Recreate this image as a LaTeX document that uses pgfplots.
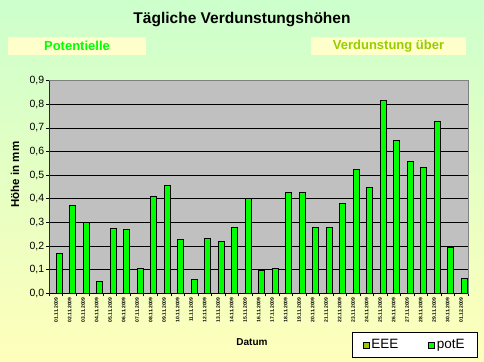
\documentclass[border=0pt]{standalone}
\usepackage{pgfplots}
\pgfplotsset{compat=1.18}
\usepackage{fontspec}
\setmainfont{Liberation Sans}
\definecolor{bgtop}{HTML}{CCFFCC}
\definecolor{bgbot}{HTML}{FFFFBB}
\definecolor{boxy}{HTML}{FFFFCC}
\definecolor{potEc}{HTML}{00FF00}
\definecolor{eeec}{HTML}{99CC00}
\definecolor{plotgray}{HTML}{C0C0C0}
\definecolor{framegray}{HTML}{808080}
\newcommand\dl[1]{\textbf{#1}}
\pgfplotsset{sqlegend/.style={legend image code/.code={\draw[##1,draw=black,line width=0.5pt] (0pt,-3pt) rectangle (6pt,3pt);}}}
\begin{document}
\begin{tikzpicture}[x=1pt,y=1pt]
\shade[top color=bgtop,bottom color=bgbot] (0,0) rectangle (484,361);
\node[font=\fontsize{15.5}{18}\selectfont\bfseries] at (242,341) {Tägliche Verdunstungshöhen};
\fill[boxy] (8,306) rectangle (146,324);
\node[font=\fontsize{13}{15}\selectfont\bfseries, text=potEc] at (77,315) {Potentielle};
\fill[boxy] (311,306) rectangle (466,324);
\node[font=\fontsize{13}{15}\selectfont\bfseries, text=eeec] at (388.5,315) {Verdunstung über};
\node[font=\fontsize{11.5}{13}\selectfont\bfseries, rotate=90] at (15,186.5) {Höhe in mm};
\node[font=\fontsize{10}{12}\selectfont\bfseries] at (252,19) {Datum};
\begin{axis}[
  at={(49.3pt,67.7pt)}, anchor=south west,
  scale only axis, width=418.7pt, height=212.6pt,
  xmin=0.5, xmax=31.5, ymin=0, ymax=0.9,
  ybar, bar width=6pt,
  axis background/.style={fill=plotgray},
  axis line style={draw=framegray, line width=1pt},
  ymajorgrids, major grid style={black, line width=0.8pt},
  ytick={0,0.1,0.2,0.3,0.4,0.5,0.6,0.7,0.8,0.9},
  xtick={1,...,31},
  xticklabels={\dl{01.11.2009},\dl{02.11.2009},\dl{03.11.2009},\dl{04.11.2009},\dl{05.11.2009},\dl{06.11.2009},\dl{07.11.2009},\dl{08.11.2009},\dl{09.11.2009},\dl{10.11.2009},\dl{11.11.2009},\dl{12.11.2009},\dl{13.11.2009},\dl{14.11.2009},\dl{15.11.2009},\dl{16.11.2009},\dl{17.11.2009},\dl{18.11.2009},\dl{19.11.2009},\dl{20.11.2009},\dl{21.11.2009},\dl{22.11.2009},\dl{23.11.2009},\dl{24.11.2009},\dl{25.11.2009},\dl{26.11.2009},\dl{27.11.2009},\dl{28.11.2009},\dl{29.11.2009},\dl{30.11.2009},\dl{01.12.2009}},
  minor xtick={0.5,1.5,...,31.5},
  tick pos=left, tick align=outside,
  major tick length=3pt, minor tick length=3pt,
  major x tick style={draw=none},
  minor x tick style={black, line width=0.7pt},
  major y tick style={black, line width=0.7pt},
  xticklabel style={rotate=90, anchor=east, font=\fontsize{5}{6}\selectfont\bfseries, inner sep=1pt},
  yticklabel style={font=\fontsize{10.5}{12}\selectfont, inner sep=2pt},
  /pgf/number format/.cd, use comma, fixed, fixed zerofill, precision=1, assume math mode=true,
  /pgfplots/.cd,
  legend columns=2,
  legend style={at={(0.873,-0.243)}, anchor=center, draw=black, fill=white, line width=0.7pt,
    font=\fontsize{13.5}{15}\selectfont, inner xsep=11pt, inner ysep=5pt,
    /tikz/every even column/.append style={column sep=28pt}},
]
\addlegendimage{fill=eeec, sqlegend}
\addlegendentry{EEE}
\addplot[fill=potEc, draw=black, line width=0.7pt, bar shift=3pt, sqlegend]
coordinates {
(1,0.17) (2,0.373) (3,0.299) (4,0.051) (5,0.275) (6,0.271) (7,0.106) (8,0.411)
(9,0.458) (10,0.229) (11,0.059) (12,0.233) (13,0.220) (14,0.280) (15,0.400) (16,0.097)
(17,0.106) (18,0.428) (19,0.428) (20,0.280) (21,0.280) (22,0.381) (23,0.525) (24,0.449)
(25,0.818) (26,0.648) (27,0.559) (28,0.534) (29,0.729) (30,0.195) (31,0.064)
};
\addlegendentry{potE}
\draw[black, line width=1pt] (rel axis cs:0,1) -- (rel axis cs:0,0) -- (rel axis cs:1,0);
\end{axis}
\pgfresetboundingbox
\path (0,0) rectangle (484,361);
\end{tikzpicture}
\end{document}
